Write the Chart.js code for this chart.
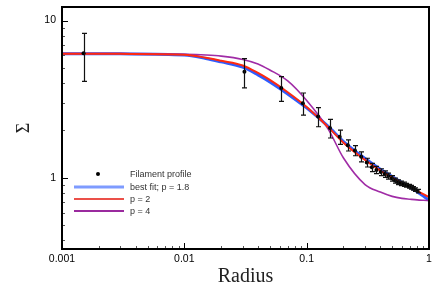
<!DOCTYPE html>
<html>
<head>
<meta charset="utf-8">
<script src="https://cdn.jsdelivr.net/npm/chart.js@4.4.1/dist/chart.umd.min.js"></script>
<style>
  html, body { margin: 0; padding: 0; background: #fff; }
  #wrap { width: 436px; height: 299px; position: relative; }
</style>
</head>
<body>
<div id="wrap"><canvas id="chart"></canvas></div>
<script>
// --- Filament profile (points with error bars) ---
const profileRadius = [0.0015, 0.031, 0.062, 0.093, 0.124, 0.155, 0.186, 0.217, 0.248, 0.279, 0.31, 0.341, 0.372, 0.403, 0.434, 0.465, 0.496, 0.527, 0.558, 0.589, 0.62, 0.651, 0.682, 0.713, 0.744, 0.775, 0.806];
const profileSigma = [6.2, 4.73, 3.73, 2.98, 2.45, 2.07, 1.82, 1.61, 1.49, 1.36, 1.25, 1.165, 1.121, 1.086, 1.056, 1.025, 0.991, 0.96, 0.936, 0.921, 0.909, 0.896, 0.883, 0.869, 0.856, 0.84, 0.823];
const profileError = [2.1, 1.0, 0.67, 0.48, 0.34, 0.28, 0.19, 0.13, 0.11, 0.1, 0.08, 0.07, 0.06, 0.055, 0.05, 0.045, 0.04, 0.035, 0.032, 0.03, 0.028, 0.026, 0.025, 0.024, 0.023, 0.022, 0.021];

const curveRadius = [0.001, 0.003, 0.01, 0.015, 0.02, 0.03, 0.04, 0.05, 0.07, 0.1, 0.15, 0.2, 0.3, 0.4, 0.5, 0.6, 0.7, 0.8, 0.9, 1.0];
const bestFitSigma = [6.16, 6.14, 6.04, 5.74, 5.46, 5.05, 4.51, 4.07, 3.41, 2.78, 2.12, 1.70, 1.325, 1.133, 1.018, 0.932, 0.873, 0.813, 0.765, 0.718];
const p2Sigma = [6.16, 6.14, 6.07, 5.80, 5.55, 5.18, 4.64, 4.19, 3.50, 2.82, 2.10, 1.67, 1.296, 1.111, 1.003, 0.925, 0.873, 0.825, 0.787, 0.754];
const p4Sigma = [6.16, 6.16, 6.11, 6.04, 5.94, 5.66, 5.30, 4.85, 4.13, 3.10, 2.04, 1.335, 0.905, 0.811, 0.761, 0.739, 0.730, 0.723, 0.719, 0.716];

// --- axes ---
const xMajorTicks = [0.001, 0.01, 0.1, 1];
const xTickLabels = ['0.001', '0.01', '0.1', '1'];
const yMajorTicks = [1, 10];
const yTickLabels = ['1', '10'];
const legendLabels = ['Filament profile', 'best fit; p = 1.8', 'p = 2', 'p = 4'];

const xMin = 0.001, xMax = 1;
const yMin = 0.352, yMax = 12.2;

// ticks 1..9 in every decade, labels only on the decades
function buildTicks(min, max, majors, labels) {
    const ticks = [];
    for (let e = Math.floor(Math.log10(min)); Math.pow(10, e) <= max * 1.001; e++) {
        const decade = Math.pow(10, e);
        for (let m = 1; m <= 9; m++) {
            const value = m * decade;
            if (value < min * 0.999 || value > max * 1.001) continue;
            const k = m === 1 ? majors.findIndex(t => Math.abs(t - value) < value * 1e-6) : -1;
            ticks.push({ value: value, major: k >= 0, lbl: k >= 0 ? labels[k] : '' });
        }
    }
    return ticks;
}

const toPoints = (xs, ys) => xs.map((x, i) => ({ x: x, y: ys[i] }));

const decorations = {
    id: 'decorations',
    afterDatasetsDraw(chart) {
        const { ctx, scales: { x, y } } = chart;
        ctx.save();
        ctx.strokeStyle = '#111';
        ctx.lineWidth = 1.2;
        profileRadius.forEach((r, i) => {
            const px = Math.round(x.getPixelForValue(r)) + 0.5;
            const top = y.getPixelForValue(profileSigma[i] + profileError[i]);
            const bot = y.getPixelForValue(profileSigma[i] - profileError[i]);
            ctx.beginPath();
            ctx.moveTo(px, top); ctx.lineTo(px, bot);
            ctx.moveTo(px - 2.5, top); ctx.lineTo(px + 2.5, top);
            ctx.moveTo(px - 2.5, bot); ctx.lineTo(px + 2.5, bot);
            ctx.stroke();
        });
        ctx.restore();
    },
    afterDraw(chart) {
        const { ctx, scales: { x, y }, chartArea: a } = chart;
        ctx.save();

        // inward ticks on left and bottom
        ctx.lineWidth = 1;
        x.ticks.forEach(t => {
            const px = Math.round(x.getPixelForValue(t.value)) + 0.5;
            ctx.strokeStyle = t.lbl ? '#000' : '#555';
            ctx.beginPath();
            ctx.moveTo(px, a.bottom);
            ctx.lineTo(px, a.bottom - (t.lbl ? 6 : 3));
            ctx.stroke();
        });
        y.ticks.forEach(t => {
            const py = Math.round(y.getPixelForValue(t.value)) + 0.5;
            ctx.strokeStyle = t.lbl ? '#000' : '#555';
            ctx.beginPath();
            ctx.moveTo(a.left, py);
            ctx.lineTo(a.left + (t.lbl ? 6 : 3), py);
            ctx.stroke();
        });

        // frame
        ctx.strokeStyle = '#000';
        ctx.lineWidth = 2;
        ctx.strokeRect(a.left, a.top, a.right - a.left, a.bottom - a.top);

        // legend inside the plot, lower left
        const lx = a.left + 12, len = 50, tx = a.left + 68;
        const rows = [a.bottom - 75, a.bottom - 62, a.bottom - 50, a.bottom - 38];
        ctx.font = '9px "Liberation Sans", Arial, sans-serif';
        ctx.textBaseline = 'middle';
        ctx.beginPath();
        ctx.arc(lx + len / 2 - 1, rows[0], 2, 0, Math.PI * 2);
        ctx.fillStyle = '#000';
        ctx.fill();
        const legendStyles = [null, ['#7e9bff', 3], ['#e4160c', 1.5], ['#9a2a9e', 2]];
        legendLabels.forEach((label, i) => {
            if (legendStyles[i]) {
                ctx.strokeStyle = legendStyles[i][0];
                ctx.lineWidth = legendStyles[i][1];
                ctx.beginPath();
                ctx.moveTo(lx, rows[i]);
                ctx.lineTo(lx + len, rows[i]);
                ctx.stroke();
            }
            ctx.fillStyle = '#333';
            ctx.fillText(label, tx, rows[i] + 0.5);
        });
        ctx.restore();
    }
};

const curveStyle = { showLine: true, pointRadius: 0, cubicInterpolationMode: 'monotone', fill: false };

new Chart(document.getElementById('chart'), {
    type: 'scatter',
    data: {
        datasets: [
            { label: legendLabels[0], data: toPoints(profileRadius, profileSigma), pointRadius: 2, pointBackgroundColor: '#000', pointBorderWidth: 0, showLine: false, order: 0 },
            Object.assign({ label: legendLabels[2], data: toPoints(curveRadius, p2Sigma), borderColor: '#ff2a10', borderWidth: 2, order: 1 }, curveStyle),
            Object.assign({ label: legendLabels[3], data: toPoints(curveRadius, p4Sigma), borderColor: '#a02ca6', borderWidth: 1.6, order: 2 }, curveStyle),
            Object.assign({ label: legendLabels[1], data: toPoints(curveRadius, bestFitSigma), borderColor: '#2f5cff', borderWidth: 3, order: 3 }, curveStyle)
        ]
    },
    options: {
        responsive: true,
        maintainAspectRatio: false,
        animation: false,
        layout: { padding: { top: 7, right: 7, left: 0, bottom: 0 } },
        plugins: { legend: { display: false }, tooltip: { enabled: false } },
        scales: {
            x: {
                type: 'logarithmic', min: xMin, max: xMax,
                afterBuildTicks: s => { s.ticks = buildTicks(xMin, xMax, xMajorTicks, xTickLabels); },
                afterFit: s => { s.height = 50; s.paddingLeft = 0; s.paddingRight = 0; },
                grid: { display: false, drawTicks: false },
                border: { display: false },
                ticks: {
                    autoSkip: false, maxRotation: 0, padding: 4, color: '#000',
                    font: { family: '"Liberation Sans", Arial, sans-serif', size: 10.5 },
                    callback: (v, i, t) => t[i].lbl
                },
                title: { display: true, text: 'Radius', color: '#222', font: { family: '"Liberation Serif", serif', size: 20 }, padding: { top: 0, bottom: 10 } }
            },
            y: {
                type: 'logarithmic', min: yMin, max: yMax,
                afterBuildTicks: s => { s.ticks = buildTicks(yMin, yMax, yMajorTicks, yTickLabels); },
                afterFit: s => { s.width = 62; s.paddingTop = 0; s.paddingBottom = 0; },
                grid: { display: false, drawTicks: false },
                border: { display: false },
                ticks: {
                    autoSkip: false, padding: 6, color: '#000',
                    font: { family: '"Liberation Sans", Arial, sans-serif', size: 10.5 },
                    callback: (v, i, t) => t[i].lbl
                },
                title: { display: true, text: 'Σ', color: '#222', font: { family: '"Liberation Serif", serif', size: 18 }, padding: { top: 13, bottom: 0 } }
            }
        }
    },
    plugins: [decorations]
});
</script>
</body>
</html>
